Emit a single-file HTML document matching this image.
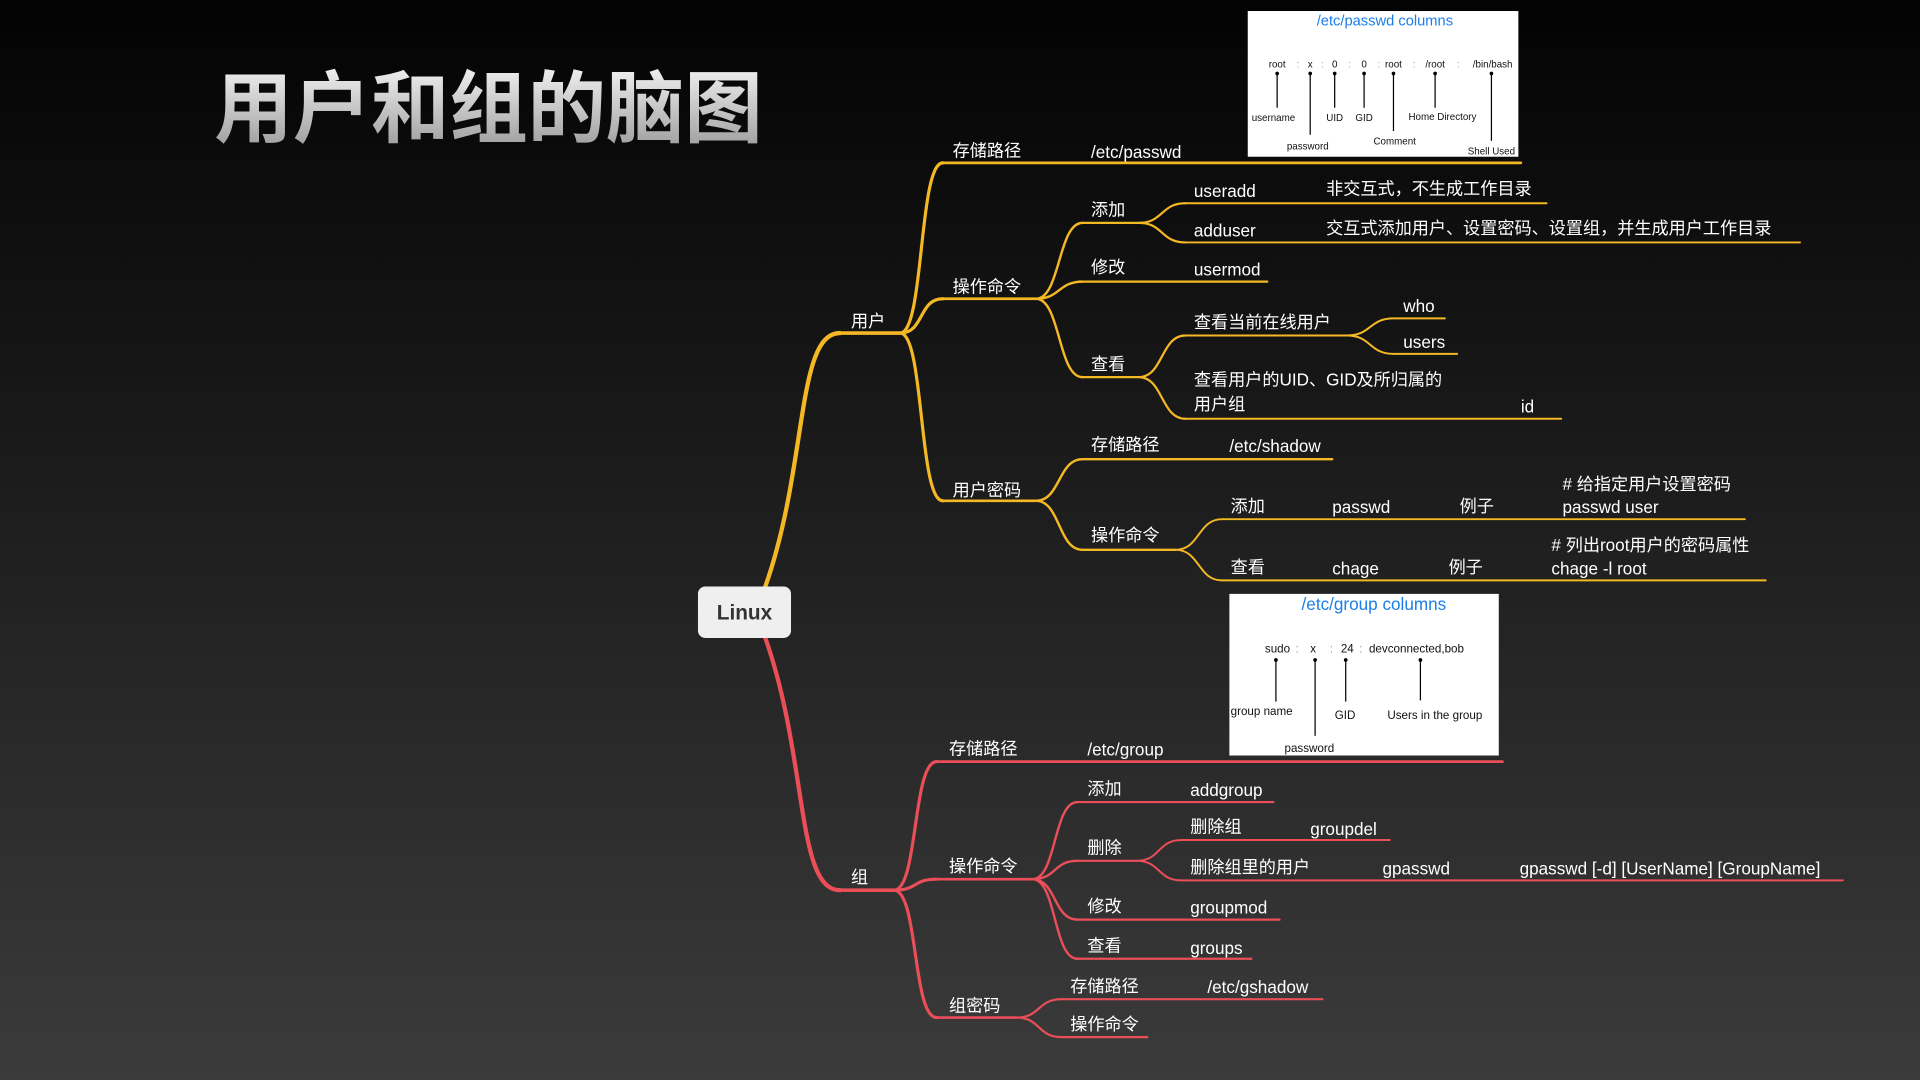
<!DOCTYPE html>
<html><head><meta charset="utf-8"><style>
html,body{margin:0;padding:0;width:1920px;height:1080px;overflow:hidden;background:#1a1a1a}
svg{display:block}
text{font-family:"Liberation Sans","Noto Sans CJK SC",sans-serif;fill:#fff}
</style></head><body>
<svg width="1920" height="1080" viewBox="0 0 1568 882" xmlns="http://www.w3.org/2000/svg">
<defs>
<linearGradient id="bg" x1="0" y1="0" x2="0" y2="1"><stop offset="0" stop-color="#030303"/><stop offset="1" stop-color="#3b3b3b"/></linearGradient>
<linearGradient id="tg" x1="0" y1="0" x2="0" y2="1"><stop offset="0" stop-color="#f2f2f2"/><stop offset="1" stop-color="#9a9a9a"/></linearGradient>
</defs>
<rect width="1568" height="882" fill="url(#bg)"/>
<text x="175" y="111" font-size="64" font-weight="bold" style="fill:url(#tg)">用户和组的脑图</text>

<!-- yellow -->
<g fill="none" stroke="#f4b824" stroke-linecap="round">
<path d="M625,479 C660,380 650,272 686,272" stroke-width="3.5"/>
<path d="M686,272 H735" stroke-width="3"/>
<path d="M735,272 C755,272 750,133 770,133 M735,272 C755,272 750,244 770,244 M735,272 C755,272 750,409 770,409" stroke-width="2.6"/>
<path d="M770,133 H1242 M770,244 H846 M770,409 H846" stroke-width="2.2"/>
<path d="M846,244 C866,244 864,182 884,182 M846,244 C866,244 864,230 884,230 M846,244 C866,244 864,308 884,308" stroke-width="2"/>
<path d="M884,182 H930 M884,230 H1035 M884,308 H930" stroke-width="1.8"/>
<path d="M930,182 C950,182 948,166 968,166 M930,182 C950,182 948,198 968,198 M930,308 C950,308 948,274 968,274 M930,308 C950,308 948,342 968,342" stroke-width="1.8"/>
<path d="M968,166 H1263 M968,198 H1470 M968,274 H1100 M968,342 H1275" stroke-width="1.6"/>
<path d="M1100,274 C1120,274 1118,260 1138,260 M1100,274 C1120,274 1118,289 1138,289 M1138,260 H1180 M1138,289 H1190" stroke-width="1.6"/>
<path d="M846,409 C866,409 864,375 884,375 M846,409 C866,409 864,449 884,449 M884,375 H1088 M884,449 H960" stroke-width="2"/>
<path d="M960,449 C980,449 978,424 998,424 M960,449 C980,449 978,474 998,474 M998,424 H1425 M998,474 H1442" stroke-width="1.6"/>
</g>
<!-- red -->
<g fill="none" stroke="#ea4e58" stroke-linecap="round">
<path d="M625,521 C660,620 650,727 686,727" stroke-width="3.5"/>
<path d="M686,727 H730" stroke-width="3"/>
<path d="M730,727 C750,727 745,622 765,622 M730,727 C750,727 745,718 765,718 M730,727 C750,727 745,831 765,831" stroke-width="2.6"/>
<path d="M765,622 H1227 M765,718 H843 M765,831 H830" stroke-width="2.2"/>
<path d="M843,718 C863,718 860,655 880,655 M843,718 C863,718 860,703 880,703 M843,718 C863,718 860,751 880,751 M843,718 C863,718 860,783 880,783" stroke-width="2"/>
<path d="M880,655 H1040 M880,703 H928 M880,751 H1045 M880,783 H1022" stroke-width="1.8"/>
<path d="M928,703 C948,703 945,686 965,686 M928,703 C948,703 945,719 965,719 M965,686 H1135 M965,719 H1505" stroke-width="1.6"/>
<path d="M830,831 C850,831 847,816 867,816 M830,831 C850,831 847,847 867,847 M867,816 H1080 M867,847 H937" stroke-width="1.8"/>
</g>

<rect x="570" y="479" width="76" height="42" rx="6" fill="#efefef"/>
<text x="608" y="506" font-size="17" font-weight="bold" text-anchor="middle" style="fill:#333">Linux</text>

<g font-size="14">
<text x="695" y="267">用户</text>
<text x="778" y="128">存储路径</text><text x="891" y="129">/etc/passwd</text>
<text x="778" y="239">操作命令</text>
<text x="891" y="176">添加</text>
<text x="975" y="161">useradd</text><text x="1083" y="159">非交互式，不生成工作目录</text>
<text x="975" y="193">adduser</text><text x="1083" y="191">交互式添加用户、设置密码、设置组，并生成用户工作目录</text>
<text x="891" y="223">修改</text><text x="975" y="225">usermod</text>
<text x="891" y="302">查看</text>
<text x="975" y="268">查看当前在线用户</text>
<text x="1146" y="255">who</text><text x="1146" y="284">users</text>
<text x="975" y="315">查看用户的UID、GID及所归属的</text>
<text x="975" y="335">用户组</text><text x="1242" y="337">id</text>
<text x="778" y="405">用户密码</text>
<text x="891" y="368">存储路径</text><text x="1004" y="369">/etc/shadow</text>
<text x="891" y="442">操作命令</text>
<text x="1005" y="418">添加</text><text x="1088" y="419">passwd</text><text x="1192" y="418">例子</text>
<text x="1276" y="400"># 给指定用户设置密码</text><text x="1276" y="419">passwd user</text>
<text x="1005" y="468">查看</text><text x="1088" y="469">chage</text><text x="1183" y="468">例子</text>
<text x="1267" y="450"># 列出root用户的密码属性</text><text x="1267" y="469">chage -l root</text>

<text x="695" y="721">组</text>
<text x="775" y="616">存储路径</text><text x="888" y="617">/etc/group</text>
<text x="775" y="712">操作命令</text>
<text x="888" y="649">添加</text><text x="972" y="650">addgroup</text>
<text x="888" y="697">删除</text>
<text x="972" y="680">删除组</text><text x="1070" y="682">groupdel</text>
<text x="972" y="713">删除组里的用户</text><text x="1129" y="714">gpasswd</text><text x="1241" y="714">gpasswd [-d] [UserName] [GroupName]</text>
<text x="888" y="745">修改</text><text x="972" y="746">groupmod</text>
<text x="888" y="777">查看</text><text x="972" y="779">groups</text>
<text x="775" y="826">组密码</text>
<text x="874" y="810">存储路径</text><text x="986" y="811">/etc/gshadow</text>
<text x="874" y="841">操作命令</text>
</g>

<!-- passwd box -->
<rect x="1019" y="9" width="221" height="119" fill="#fff"/>
<text x="1131" y="21" font-size="12" text-anchor="middle" style="fill:#1a7fe8">/etc/passwd columns</text>
<g font-size="8" text-anchor="middle">
<text x="1043" y="55" style="fill:#111">root</text><text x="1060" y="55" style="fill:#999">:</text>
<text x="1070" y="55" style="fill:#111">x</text><text x="1080" y="55" style="fill:#999">:</text>
<text x="1090" y="55" style="fill:#111">0</text><text x="1102" y="55" style="fill:#999">:</text>
<text x="1114" y="55" style="fill:#111">0</text><text x="1126" y="55" style="fill:#999">:</text>
<text x="1138" y="55" style="fill:#111">root</text><text x="1155" y="55" style="fill:#999">:</text>
<text x="1172" y="55" style="fill:#111">/root</text><text x="1191" y="55" style="fill:#999">:</text>
<text x="1219" y="55" style="fill:#111">/bin/bash</text>
<text x="1040" y="99" style="fill:#111">username</text>
<text x="1068" y="122" style="fill:#111">password</text>
<text x="1090" y="99" style="fill:#111">UID</text>
<text x="1114" y="99" style="fill:#111">GID</text>
<text x="1139" y="118" style="fill:#111">Comment</text>
<text x="1178" y="98" style="fill:#111">Home Directory</text>
<text x="1218" y="126" style="fill:#111">Shell Used</text>
</g>
<g stroke="#000" stroke-width="1">
<path d="M1043,60 V88 M1070,60 V110 M1090,60 V88 M1114,60 V88 M1138,60 V107 M1172,60 V88 M1218,60 V115"/>
</g>
<g fill="#000"><circle cx="1043" cy="60" r="1.5"/><circle cx="1070" cy="60" r="1.5"/><circle cx="1090" cy="60" r="1.5"/><circle cx="1114" cy="60" r="1.5"/><circle cx="1138" cy="60" r="1.5"/><circle cx="1172" cy="60" r="1.5"/><circle cx="1218" cy="60" r="1.5"/></g>

<!-- group box -->
<rect x="1004" y="485" width="220" height="132" fill="#fff"/>
<text x="1122" y="498" font-size="14" text-anchor="middle" style="fill:#1a7fe8">/etc/group columns</text>
<g font-size="9.5">
<text x="1033" y="533" style="fill:#111">sudo</text><text x="1058" y="533" style="fill:#999">:</text>
<text x="1070" y="533" style="fill:#111">x</text><text x="1086" y="533" style="fill:#999">:</text>
<text x="1095" y="533" style="fill:#111">24</text><text x="1110" y="533" style="fill:#999">:</text>
<text x="1118" y="533" style="fill:#111">devconnected,bob</text>
<text x="1005" y="584" style="fill:#111">group name</text>
<text x="1049" y="614" style="fill:#111">password</text>
<text x="1090" y="587" style="fill:#111">GID</text>
<text x="1133" y="587" style="fill:#111">Users in the group</text>
</g>
<g stroke="#000" stroke-width="1"><path d="M1042,539 V573 M1074,539 V601 M1099,539 V573 M1160,539 V572"/></g>
<g fill="#000"><circle cx="1042" cy="539" r="1.5"/><circle cx="1074" cy="539" r="1.5"/><circle cx="1099" cy="539" r="1.5"/><circle cx="1160" cy="539" r="1.5"/></g>
</svg>
</body></html>
